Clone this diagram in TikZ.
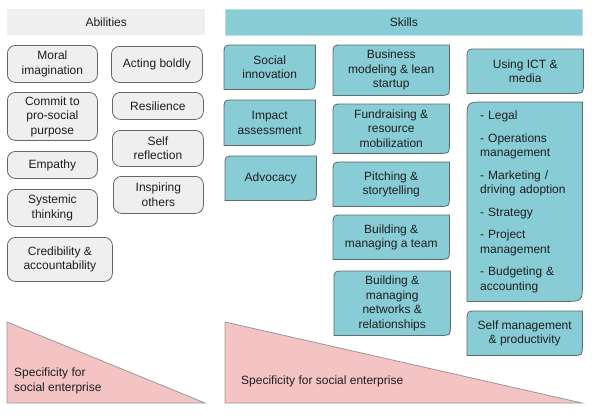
\documentclass[tikz,border=0pt]{standalone}
\usepackage{fontspec}
\setmainfont{Liberation Sans}
\usetikzlibrary{backgrounds,calc}
\definecolor{tealfill}{HTML}{88CDD5}
\definecolor{tealhead}{HTML}{B5E0E5}
\definecolor{gfill}{HTML}{EFEFEF}
\definecolor{gborder}{HTML}{666666}
\definecolor{sborder}{HTML}{5E6A6C}
\definecolor{pinkfill}{HTML}{F4C3C3}
\definecolor{triborder}{HTML}{999999}
\definecolor{txt}{HTML}{1E1E1E}
\tikzset{
  base/.style={anchor=north west, inner sep=0pt, align=center,
    font=\fontsize{12}{14.5}\selectfont, text=txt},
  gbox/.style={base, draw=gborder, fill=gfill, rounded corners=8pt, line width=0.8pt},
  sbox/.style={base},
  sshape/.style={draw=sborder, fill=tealfill, line width=0.8pt},
  ahead/.style={base, fill=gfill},
  shead/.style={base, fill=tealfill, draw=tealhead, line width=0.8pt},
  tri/.style={draw=triborder, fill=pinkfill, line width=0.8pt},
  tritext/.style={anchor=west, inner sep=0pt, align=left,
    font=\fontsize{12}{14.5}\selectfont, text=txt},
}
\newcommand{\skillshape}[2]{%
  \path[sshape] (#1.south west) -- ([yshift=-#2]#1.north west)
    .. controls (#1.north west) .. ([xshift=#2]#1.north west)
    -- (#1.north east) -- ([yshift=#2]#1.south east)
    .. controls (#1.south east) .. ([xshift=-#2]#1.south east) -- cycle;}
\begin{document}
\begin{tikzpicture}[x=1pt,y=-1pt]
\useasboundingbox (0,0) rectangle (592,418);
% headers
\node[ahead, minimum width=198pt, minimum height=26pt] (abh) at (7,9) {Abilities};
\node[shead, minimum width=357pt, minimum height=26pt] (skh) at (225,9) {Skills};
% abilities
\node[gbox, minimum width=90pt, minimum height=37pt] (moral) at (7,45) {Moral\\imagination};
\node[gbox, minimum width=91pt, minimum height=36pt] (bold) at (111,46) {Acting boldly};
\node[gbox, minimum width=90pt, minimum height=48pt] (commit) at (7,92) {Commit to\\pro-social\\purpose};
\node[gbox, minimum width=91pt, minimum height=27pt] (resil) at (112,92) {Resilience};
\node[gbox, minimum width=91pt, minimum height=36pt] (selfr) at (112,130) {Self\\reflection};
\node[gbox, minimum width=90pt, minimum height=27pt] (empathy) at (7,151) {Empathy};
\node[gbox, minimum width=90pt, minimum height=37pt] (inspire) at (113,176) {Inspiring\\others};
\node[gbox, minimum width=90pt, minimum height=37pt] (systemic) at (7,189) {Systemic\\thinking};
\node[gbox, minimum width=105pt, minimum height=44pt] (cred) at (7,237) {Credibility \&\\accountability};
% skills
\node[sbox, minimum width=91pt, minimum height=44pt] (socinn) at (224,45) {Social\\innovation};
\node[sbox, minimum width=91pt, minimum height=45pt] (impact) at (224,100) {Impact\\assessment};
\node[sbox, minimum width=91pt, minimum height=44pt] (advocacy) at (225,156) {Advocacy};
\node[sbox, minimum width=116pt, minimum height=50pt] (business) at (333,45) {Business\\modeling \& lean\\startup};
\node[sbox, minimum width=116pt, minimum height=49pt] (fund) at (333,104) {Fundraising \&\\resource\\mobilization};
\node[sbox, minimum width=116pt, minimum height=44pt] (pitch) at (333,162) {Pitching \&\\storytelling};
\node[sbox, minimum width=116pt, minimum height=44pt] (team) at (333,215) {Building \&\\managing a team};
\node[sbox, minimum width=116pt, minimum height=64pt] (networks) at (334,271) {Building \&\\managing\\networks \&\\relationships};
\node[sbox, minimum width=116pt, minimum height=44pt] (ict) at (467,49) {Using ICT \&\\media};
\node[sbox, minimum width=115pt, minimum height=199pt, align=left, text width=89pt] (list) at (467,102)
  {- Legal\\[8pt]- Operations\\management\\[8pt]- Marketing /\\driving adoption\\[8pt]- Strategy\\[8pt]- Project\\management\\[8pt]- Budgeting \&\\accounting};
\node[sbox, minimum width=115pt, minimum height=44pt] (selfm) at (467,311) {Self management\\\& productivity};
\begin{scope}[on background layer]
  \foreach \n in {socinn,impact,advocacy,business,fund,pitch,team,networks,ict,selfm}{\skillshape{\n}{10pt}}
  \skillshape{list}{18pt}
\end{scope}
% triangles
\coordinate (lt1) at (7,322); \coordinate (lt2) at (7,403); \coordinate (lt3) at (205,403);
\path[tri] (lt1) -- (lt2) -- (lt3) -- cycle;
\coordinate (rt1) at (225,322); \coordinate (rt2) at (225,403); \coordinate (rt3) at (582,403);
\path[tri] (rt1) -- (rt2) -- (rt3) -- cycle;
\node[tritext] (ltxt) at (14,381) {Specificity for\\social enterprise};
\node[tritext] (rtxt) at (241,381) {Specificity for social enterprise};
\end{tikzpicture}
\end{document}
